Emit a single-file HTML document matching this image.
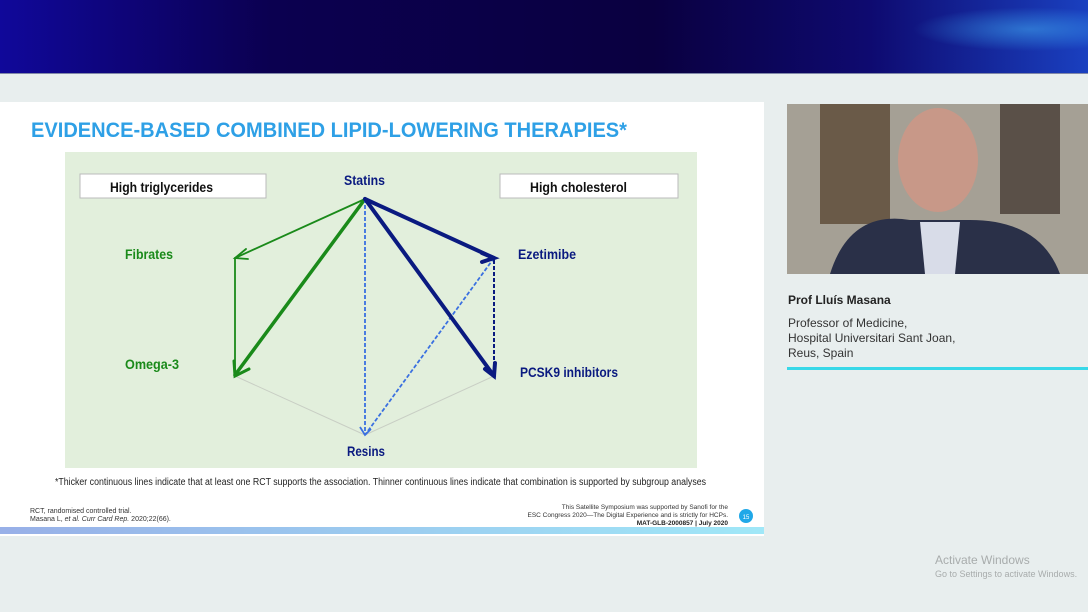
<!DOCTYPE html>
<html><head><meta charset="utf-8"><style>
html,body{margin:0;padding:0;width:1088px;height:612px;overflow:hidden;background:#e8eeee}
svg{display:block}
text{font-family:"Liberation Sans Narrow","Liberation Sans",sans-serif}
</style></head><body>
<svg width="1088" height="612" viewBox="0 0 1088 612" xmlns="http://www.w3.org/2000/svg">
<defs>
<linearGradient id="bn" x1="0" x2="1" y1="0" y2="0">
<stop offset="0" stop-color="#10089a"/><stop offset="0.25" stop-color="#0b0050"/><stop offset="0.6" stop-color="#0a0040"/><stop offset="0.8" stop-color="#0e0a70"/><stop offset="1" stop-color="#1a40c0"/>
</linearGradient>
<radialGradient id="sp" cx="0.85" cy="0.4" r="0.3">
<stop offset="0" stop-color="#40a8f0" stop-opacity="0.55"/><stop offset="1" stop-color="#40b8ff" stop-opacity="0"/>
</radialGradient>
<linearGradient id="ft" x1="0" x2="1"><stop offset="0" stop-color="#3060d0"/><stop offset="1" stop-color="#40d0f0"/></linearGradient>
</defs>
<rect x="0" y="0" width="1088" height="73" fill="url(#bn)"/>
<rect x="700" y="0" width="388" height="73" fill="url(#sp)"/>
<rect x="0" y="73" width="1088" height="1" fill="#8088a8"/>
<rect x="0" y="102" width="764" height="434" fill="#fff"/>
<text x="31" y="137" font-size="21" font-weight="bold" fill="#2ea0e6" textLength="596" lengthAdjust="spacingAndGlyphs">EVIDENCE-BASED COMBINED LIPID-LOWERING THERAPIES*</text>
<rect x="65" y="152" width="632" height="316" fill="#e2efdc"/>
<rect x="80" y="174" width="186" height="24" fill="#fff" stroke="#bbb"/>
<text x="110" y="192" font-size="14" font-weight="bold" fill="#111" textLength="103" lengthAdjust="spacingAndGlyphs">High triglycerides</text>
<rect x="500" y="174" width="178" height="24" fill="#fff" stroke="#bbb"/>
<text x="530" y="192" font-size="14" font-weight="bold" fill="#111" textLength="97" lengthAdjust="spacingAndGlyphs">High cholesterol</text>
<text x="344" y="185" font-size="14" font-weight="bold" fill="#0a1a80" textLength="41" lengthAdjust="spacingAndGlyphs">Statins</text>
<text x="125" y="259" font-size="14" font-weight="bold" fill="#1a8a1a" textLength="48" lengthAdjust="spacingAndGlyphs">Fibrates</text>
<text x="125" y="369" font-size="14" font-weight="bold" fill="#1a8a1a" textLength="54" lengthAdjust="spacingAndGlyphs">Omega-3</text>
<text x="518" y="259" font-size="14" font-weight="bold" fill="#0a1a80" textLength="58" lengthAdjust="spacingAndGlyphs">Ezetimibe</text>
<text x="520" y="377" font-size="14" font-weight="bold" fill="#0a1a80" textLength="98" lengthAdjust="spacingAndGlyphs">PCSK9 inhibitors</text>
<text x="347" y="456" font-size="14" font-weight="bold" fill="#0a1a80" textLength="38" lengthAdjust="spacingAndGlyphs">Resins</text>
<line x1="235" y1="376" x2="365" y2="435" stroke="#c8cec4" stroke-width="1"/>
<line x1="494" y1="376" x2="365" y2="435" stroke="#c8cec4" stroke-width="1"/>
<g stroke="#1a8a1a" fill="none" stroke-linecap="round">
<line x1="365" y1="199" x2="235" y2="258" stroke-width="1.8"/>
<polyline points="246,249 235,258 248,259" stroke-width="1.8"/>
<line x1="235" y1="258" x2="235" y2="375" stroke-width="1.8"/>
<line x1="365" y1="199" x2="235" y2="375" stroke-width="3.5"/>
<polyline points="234,361 235,376 249,369" stroke-width="3"/>
</g>
<g stroke="#3a70e0" fill="none" stroke-width="1.8" stroke-dasharray="4,2">
<line x1="365" y1="199" x2="365" y2="435"/>
<line x1="494" y1="258" x2="365" y2="435"/>
</g>
<polyline points="360,427 365,435 371,429" stroke="#3a70e0" fill="none" stroke-width="1.8"/>
<line x1="494" y1="260" x2="494" y2="372" stroke="#0a1a80" stroke-width="2" stroke-dasharray="4,2"/>
<g stroke="#0a1a80" fill="none" stroke-width="4" stroke-linecap="round">
<line x1="365" y1="199" x2="494" y2="258"/>
<polyline points="482,253 494,258 482,262"/>
<line x1="365" y1="199" x2="494" y2="376"/>
<polyline points="485,369 494,376 495,363"/>
</g>
<text x="55" y="485" font-size="10" fill="#222" textLength="651" lengthAdjust="spacingAndGlyphs">*Thicker continuous lines indicate that at least one RCT supports the association. Thinner continuous lines indicate that combination is supported by subgroup analyses</text>
<text x="30" y="513" font-size="7" fill="#333">RCT, randomised controlled trial.</text>
<text x="30" y="521" font-size="7" fill="#333">Masana L, <tspan font-style="italic">et al. Curr Card Rep.</tspan> 2020;22(66).</text>
<text x="728" y="509" font-size="6.5" fill="#333" text-anchor="end">This Satellite Symposium was supported by Sanofi for the</text>
<text x="728" y="517" font-size="6.5" fill="#333" text-anchor="end">ESC Congress 2020—The Digital Experience and is strictly for HCPs.</text>
<text x="728" y="525" font-size="6.5" font-weight="bold" fill="#222" text-anchor="end">MAT-GLB-2000857 | July 2020</text>
<circle cx="746" cy="516" r="7" fill="#20a8e8"/>
<text x="746" y="519" font-size="6" fill="#fff" text-anchor="middle">15</text>
<rect x="0" y="527" width="764" height="7" fill="url(#ft)" opacity="0.5"/>
<rect x="787" y="104" width="301" height="170" fill="#8a8478"/>
<rect x="787" y="104" width="301" height="170" fill="#d8d4cc" opacity="0.35"/>
<rect x="820" y="104" width="70" height="120" fill="#6a5a48"/>
<rect x="1000" y="104" width="60" height="110" fill="#5a5048"/>
<ellipse cx="938" cy="160" rx="40" ry="52" fill="#c89888"/>
<path d="M830 274 Q850 210 910 220 L970 220 Q1040 220 1060 274 Z" fill="#2a3048"/>
<path d="M920 222 L960 222 L955 274 L925 274 Z" fill="#d8dce8"/>
<text x="788" y="304" font-size="12" font-weight="bold" fill="#222" font-family="Liberation Sans,sans-serif">Prof  Lluís Masana</text>
<text x="788" y="327" font-size="12" fill="#333" font-family="Liberation Sans,sans-serif">Professor of Medicine,</text>
<text x="788" y="342" font-size="12" fill="#333" font-family="Liberation Sans,sans-serif">Hospital Universitari Sant Joan,</text>
<text x="788" y="357" font-size="12" fill="#333" font-family="Liberation Sans,sans-serif">Reus, Spain</text>
<rect x="787" y="367" width="301" height="3" fill="#38d8e8"/>
<text x="935" y="564" font-size="12" fill="#a8acac" font-family="Liberation Sans,sans-serif">Activate Windows</text>
<text x="935" y="577" font-size="9" fill="#a8acac" font-family="Liberation Sans,sans-serif">Go to Settings to activate Windows.</text>
</svg>
</body></html>
